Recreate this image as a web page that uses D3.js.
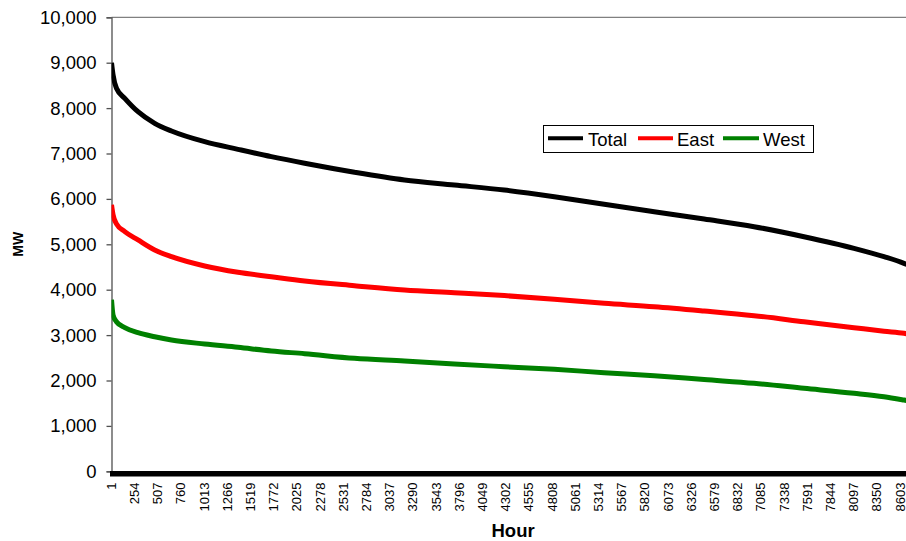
<!DOCTYPE html>
<html>
<head>
<meta charset="utf-8">
<script src="https://cdn.jsdelivr.net/npm/d3@7"></script>
<style>
  html, body { margin: 0; padding: 0; background: #fff; }
  svg { display: block; font-family: Arial, "Liberation Sans", sans-serif; }
</style>
</head>
<body>
<svg id="chart" width="906" height="541"></svg>
<script>
// ---- Data ----
const hours = [1, 18, 55, 146, 290, 472, 655, 1017, 1380, 1744, 2107, 2651, 3196, 3740, 4285, 4830, 5374, 5919, 6464, 7008, 7553, 8098, 8425, 8643, 8760];
const totalMW = [9000, 8730, 8436, 8216, 7921, 7665, 7496, 7260, 7092, 6930, 6784, 6586, 6416, 6306, 6196, 6048, 5881, 5718, 5557, 5388, 5167, 4912, 4727, 4581, 4480];
const eastMW  = [5870, 5650, 5450, 5280, 5095, 4874, 4727, 4522, 4383, 4286, 4192, 4088, 3993, 3934, 3870, 3789, 3700, 3626, 3531, 3427, 3295, 3163, 3085, 3040, 3000];
const westMW  = [3780, 3443, 3295, 3163, 3053, 2965, 2892, 2804, 2731, 2650, 2590, 2489, 2430, 2363, 2304, 2247, 2172, 2106, 2020, 1938, 1828, 1718, 1640, 1570, 1530];
const seriesNames = ["Total", "East", "West"];
const seriesColors = ["#000000", "#ff0000", "#008000"];
const xTickLabels = [1, 254, 507, 760, 1013, 1266, 1519, 1772, 2025, 2278, 2531, 2784, 3037, 3290, 3543, 3796, 4049, 4302, 4555, 4808, 5061, 5314, 5567, 5820, 6073, 6326, 6579, 6832, 7085, 7338, 7591, 7844, 8097, 8350, 8603];
const yTicks = [0, 1000, 2000, 3000, 4000, 5000, 6000, 7000, 8000, 9000, 10000];
const hourMax = 8760;

// ---- Layout ----
const svg = d3.select("#chart");
const plotLeft = 111.5, plotTop = 17.3, plotBottom = 471.3;
const plotRight = plotLeft + (hourMax - 1) * 0.0917;
const W = 906;

const x = d3.scaleLinear().domain([1, hourMax]).range([plotLeft, plotRight]);
const y = d3.scaleLinear().domain([0, 10000]).range([plotBottom, plotTop]);

// clip
svg.append("defs").append("clipPath").attr("id", "plotclip")
  .append("rect").attr("x", plotLeft).attr("y", plotTop - 10)
  .attr("width", plotRight - plotLeft).attr("height", plotBottom - plotTop + 10);

// top border
svg.append("line")
  .attr("x1", plotLeft).attr("x2", W).attr("y1", plotTop).attr("y2", plotTop)
  .attr("stroke", "#808080").attr("stroke-width", 1.3);

// y axis
const yAxis = d3.axisLeft(y).tickValues(yTicks).tickSize(5).tickPadding(10)
  .tickFormat(d3.format(","));
const yg = svg.append("g").attr("transform", `translate(${plotLeft},0)`).call(yAxis);
yg.select(".domain").attr("stroke", "#505050").attr("stroke-width", 1.3);
yg.selectAll(".tick line").attr("stroke", "#505050").attr("stroke-width", 1.3);
yg.selectAll(".tick text").attr("font-size", "18.5px").attr("fill", "#000")
  .attr("font-family", "Arial, 'Liberation Sans', sans-serif");

// series lines
const series = [totalMW, eastMW, westMW];
const line = d3.line()
  .x((d, i) => x(hours[i]))
  .y(d => y(d))
  .curve(d3.curveMonotoneX);

const lg = svg.append("g").attr("clip-path", "url(#plotclip)");
series.forEach((vals, si) => {
  lg.append("path")
    .datum(vals)
    .attr("d", line)
    .attr("fill", "none")
    .attr("stroke", seriesColors[si])
    .attr("stroke-width", 5)
    .attr("stroke-linejoin", "round");
});

// thick x axis line
svg.append("rect")
  .attr("x", plotLeft - 1.5).attr("y", plotBottom - 0.3)
  .attr("width", W - plotLeft + 1.5).attr("height", 5.5)
  .attr("fill", "#000");

// x tick labels (rotated)
const xg = svg.append("g");
xTickLabels.forEach(h => {
  const px = x(h);
  xg.append("text")
    .attr("transform", `translate(${px + 4.2},${482.5}) rotate(-90)`)
    .attr("text-anchor", "end")
    .attr("font-size", "13px")
    .attr("fill", "#000")
    .text(h);
});

// axis titles
svg.append("text")
  .attr("x", (plotLeft + plotRight) / 2).attr("y", 537.3)
  .attr("text-anchor", "middle")
  .attr("font-size", "18.5px").attr("font-weight", "bold")
  .text("Hour");

svg.append("text")
  .attr("transform", `translate(23,${(plotTop + plotBottom) / 2}) rotate(-90)`)
  .attr("text-anchor", "middle")
  .attr("font-size", "14px").attr("font-weight", "bold")
  .text("MW");

// legend
const legend = svg.append("g");
legend.append("rect")
  .attr("x", 543.5).attr("y", 125.5).attr("width", 270).attr("height", 27)
  .attr("fill", "#fff").attr("stroke", "#000").attr("stroke-width", 1);
const legItems = [
  { x1: 548, x2: 583, tx: 588 },
  { x1: 638, x2: 673, tx: 677 },
  { x1: 723, x2: 759, tx: 763 }
];
seriesNames.forEach((name, i) => {
  const it = legItems[i];
  legend.append("line")
    .attr("x1", it.x1).attr("x2", it.x2).attr("y1", 138.3).attr("y2", 138.3)
    .attr("stroke", seriesColors[i]).attr("stroke-width", 4);
  legend.append("text")
    .attr("x", it.tx).attr("y", 145.5)
    .attr("font-size", "18.5px").attr("fill", "#000")
    .text(name);
});
</script>
</body>
</html>
